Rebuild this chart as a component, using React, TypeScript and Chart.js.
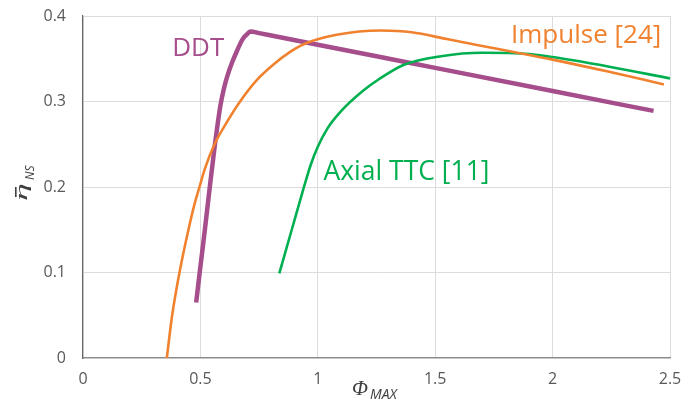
import React, { useEffect, useRef } from "react";
import { Chart, registerables } from "chart.js";

Chart.register(...registerables);

// ---- data ----
const ddtX = [0.482, 0.497, 0.519, 0.54, 0.562, 0.585, 0.6, 0.615, 0.634, 0.657, 0.68, 0.7, 0.713, 0.75, 0.85, 1.0, 1.25, 1.5, 2.0, 2.43];
const ddtY = [0.065, 0.1, 0.15, 0.2, 0.25, 0.295, 0.315, 0.33, 0.345, 0.36, 0.373, 0.379, 0.382, 0.38, 0.3746, 0.3664, 0.3529, 0.3393, 0.3122, 0.289];

const impulseX = [0.357, 0.379, 0.411, 0.449, 0.475, 0.496, 0.52, 0.56, 0.6, 0.669, 0.74, 0.81, 0.882, 0.94, 1.08, 1.27, 1.4, 1.55, 1.7, 1.85, 2.0, 2.236, 2.474];
const impulseY = [0.0, 0.0485, 0.1, 0.15, 0.18, 0.2, 0.222, 0.25, 0.27, 0.3, 0.325, 0.343, 0.358, 0.367, 0.378, 0.383, 0.381, 0.373, 0.365, 0.357, 0.349, 0.335, 0.32];

const axialX = [0.836, 0.889, 0.939, 0.97, 1.0, 1.04, 1.1, 1.19, 1.26, 1.367, 1.525, 1.7, 1.9, 2.0, 2.236, 2.5];
const axialY = [0.099, 0.15, 0.198, 0.226, 0.247, 0.268, 0.289, 0.312, 0.326, 0.343, 0.353, 0.357, 0.3555, 0.352, 0.341, 0.327];

const xTickValues = [0, 0.5, 1, 1.5, 2, 2.5];
const yTickValues = [0, 0.1, 0.2, 0.3, 0.4];

const seriesNames = ["DDT", "Impulse [24]", "Axial TTC [11]"];

// label anchors in data coordinates (left, baseline)
const labelX = [0.38, 1.823, 1.024];
const labelY = [0.353, 0.368, 0.208];

const COLORS = ["#A64D8C", "#F0822F", "#00B050"];

const toPts = (xs: number[], ys: number[]) => xs.map((x, i) => ({ x, y: ys[i] }));
const fmt = (v: any) => String(Number(Number(v).toFixed(2)));

const textPlugin = {
  id: "textPlugin",
  afterDraw(chart: any) {
    const { ctx, scales, chartArea } = chart;
    const xs = scales.x;
    const ys = scales.y;
    ctx.save();
    // series labels
    ctx.textAlign = "left";
    ctx.textBaseline = "alphabetic";
    seriesNames.forEach((name, i) => {
      ctx.font = i === 2 ? '26.5px "Open Sans"' : '26px "Open Sans"';
      ctx.fillStyle = COLORS[i];
      ctx.fillText(name, xs.getPixelForValue(labelX[i]), ys.getPixelForValue(labelY[i]));
    });

    const titleColor = "#404040";
    // x axis title: Φ_MAX
    const cx = (chartArea.left + chartArea.right) / 2 - 2;
    ctx.fillStyle = titleColor;
    ctx.font = 'italic 21px "Liberation Serif"';
    const phiW = ctx.measureText("Φ").width;
    ctx.font = 'italic 14px "Open Sans"';
    const maxW = ctx.measureText("MAX").width;
    const total = phiW + 2 + maxW;
    const startX = cx - total / 2;
    ctx.font = 'italic 21px "Liberation Serif"';
    ctx.fillText("Φ", startX, 395);
    ctx.font = 'italic 14px "Open Sans"';
    ctx.fillText("MAX", startX + phiW + 2, 399);

    // y axis title: η̄_NS (rotated)
    ctx.save();
    ctx.translate(24, 192);
    ctx.rotate(-Math.PI / 2);
    ctx.save();
    ctx.scale(1.5, 0.7);
    ctx.font = 'italic 24px "Liberation Serif"';
    ctx.textAlign = "center";
    ctx.textBaseline = "alphabetic";
    ctx.fillText("η", 0, 4);
    ctx.restore();
    // overbar
    ctx.fillRect(-5, -9, 10, 1.6);
    // subscript
    ctx.font = 'italic 12px "Open Sans"';
    ctx.textAlign = "left";
    ctx.fillText("NS", 12, 10);
    ctx.restore();

    ctx.restore();
  },
};

export default function App() {
  const ref = useRef<HTMLCanvasElement | null>(null);

  useEffect(() => {
    if (!ref.current) return;
    const chart = new Chart(ref.current, {
      type: "line",
      data: {
        datasets: [
          {
            label: seriesNames[1],
            data: toPts(impulseX, impulseY),
            borderColor: COLORS[1],
            borderWidth: 2.6,
            pointRadius: 0,
            cubicInterpolationMode: "monotone",
            fill: false,
            order: 0,
          },
          {
            label: seriesNames[2],
            data: toPts(axialX, axialY),
            borderColor: COLORS[2],
            borderWidth: 2.6,
            pointRadius: 0,
            cubicInterpolationMode: "monotone",
            fill: false,
            order: 1,
          },
          {
            label: seriesNames[0],
            data: toPts(ddtX, ddtY),
            borderColor: COLORS[0],
            borderWidth: 4.5,
            pointRadius: 0,
            cubicInterpolationMode: "monotone",
            fill: false,
            order: 2,
          },
        ],
      },
      options: {
        animation: false,
        responsive: false,
        devicePixelRatio: 1,
        parsing: false as any,
        layout: { padding: { top: 16, right: 12, left: 0, bottom: 0 } },
        plugins: {
          legend: { display: false },
          tooltip: { enabled: false },
          title: { display: false },
        },
        scales: {
          x: {
            type: "linear",
            min: 0,
            max: 2.5,
            afterBuildTicks: (scale: any) => {
              scale.ticks = xTickValues.map((v) => ({ value: v }));
            },
            afterFit: (scale: any) => {
              scale.height = 54;
              scale.paddingLeft = 0;
              scale.paddingRight = 0;
            },
            ticks: {
              color: "#595959",
              font: { family: "Open Sans", size: 16 },
              padding: 12,
              maxRotation: 0,
              autoSkip: false,
              callback: (v: any) => fmt(v),
            },
            grid: { color: "#dcdcdc", lineWidth: 1, drawTicks: false },
            border: { display: true, color: "#8a8a8a", width: 1.2 },
          },
          y: {
            type: "linear",
            min: 0,
            max: 0.4,
            afterBuildTicks: (scale: any) => {
              scale.ticks = yTickValues.map((v) => ({ value: v }));
            },
            afterFit: (scale: any) => {
              scale.width = 83;
              scale.paddingTop = 0;
              scale.paddingBottom = 0;
            },
            ticks: {
              color: "#595959",
              font: { family: "Open Sans", size: 16 },
              padding: 17,
              autoSkip: false,
              callback: (v: any) => fmt(v),
            },
            grid: { color: "#dcdcdc", lineWidth: 1, drawTicks: false },
            border: { display: true, color: "#666666", width: 1.2 },
          },
        },
      },
      plugins: [textPlugin],
    });
    return () => chart.destroy();
  }, []);

  return (
    <div style={{ position: "absolute", left: 0, top: 0, width: 682, height: 412, background: "#ffffff" }}>
      <canvas ref={ref} width={682} height={412} style={{ display: "block" }} />
    </div>
  );
}
